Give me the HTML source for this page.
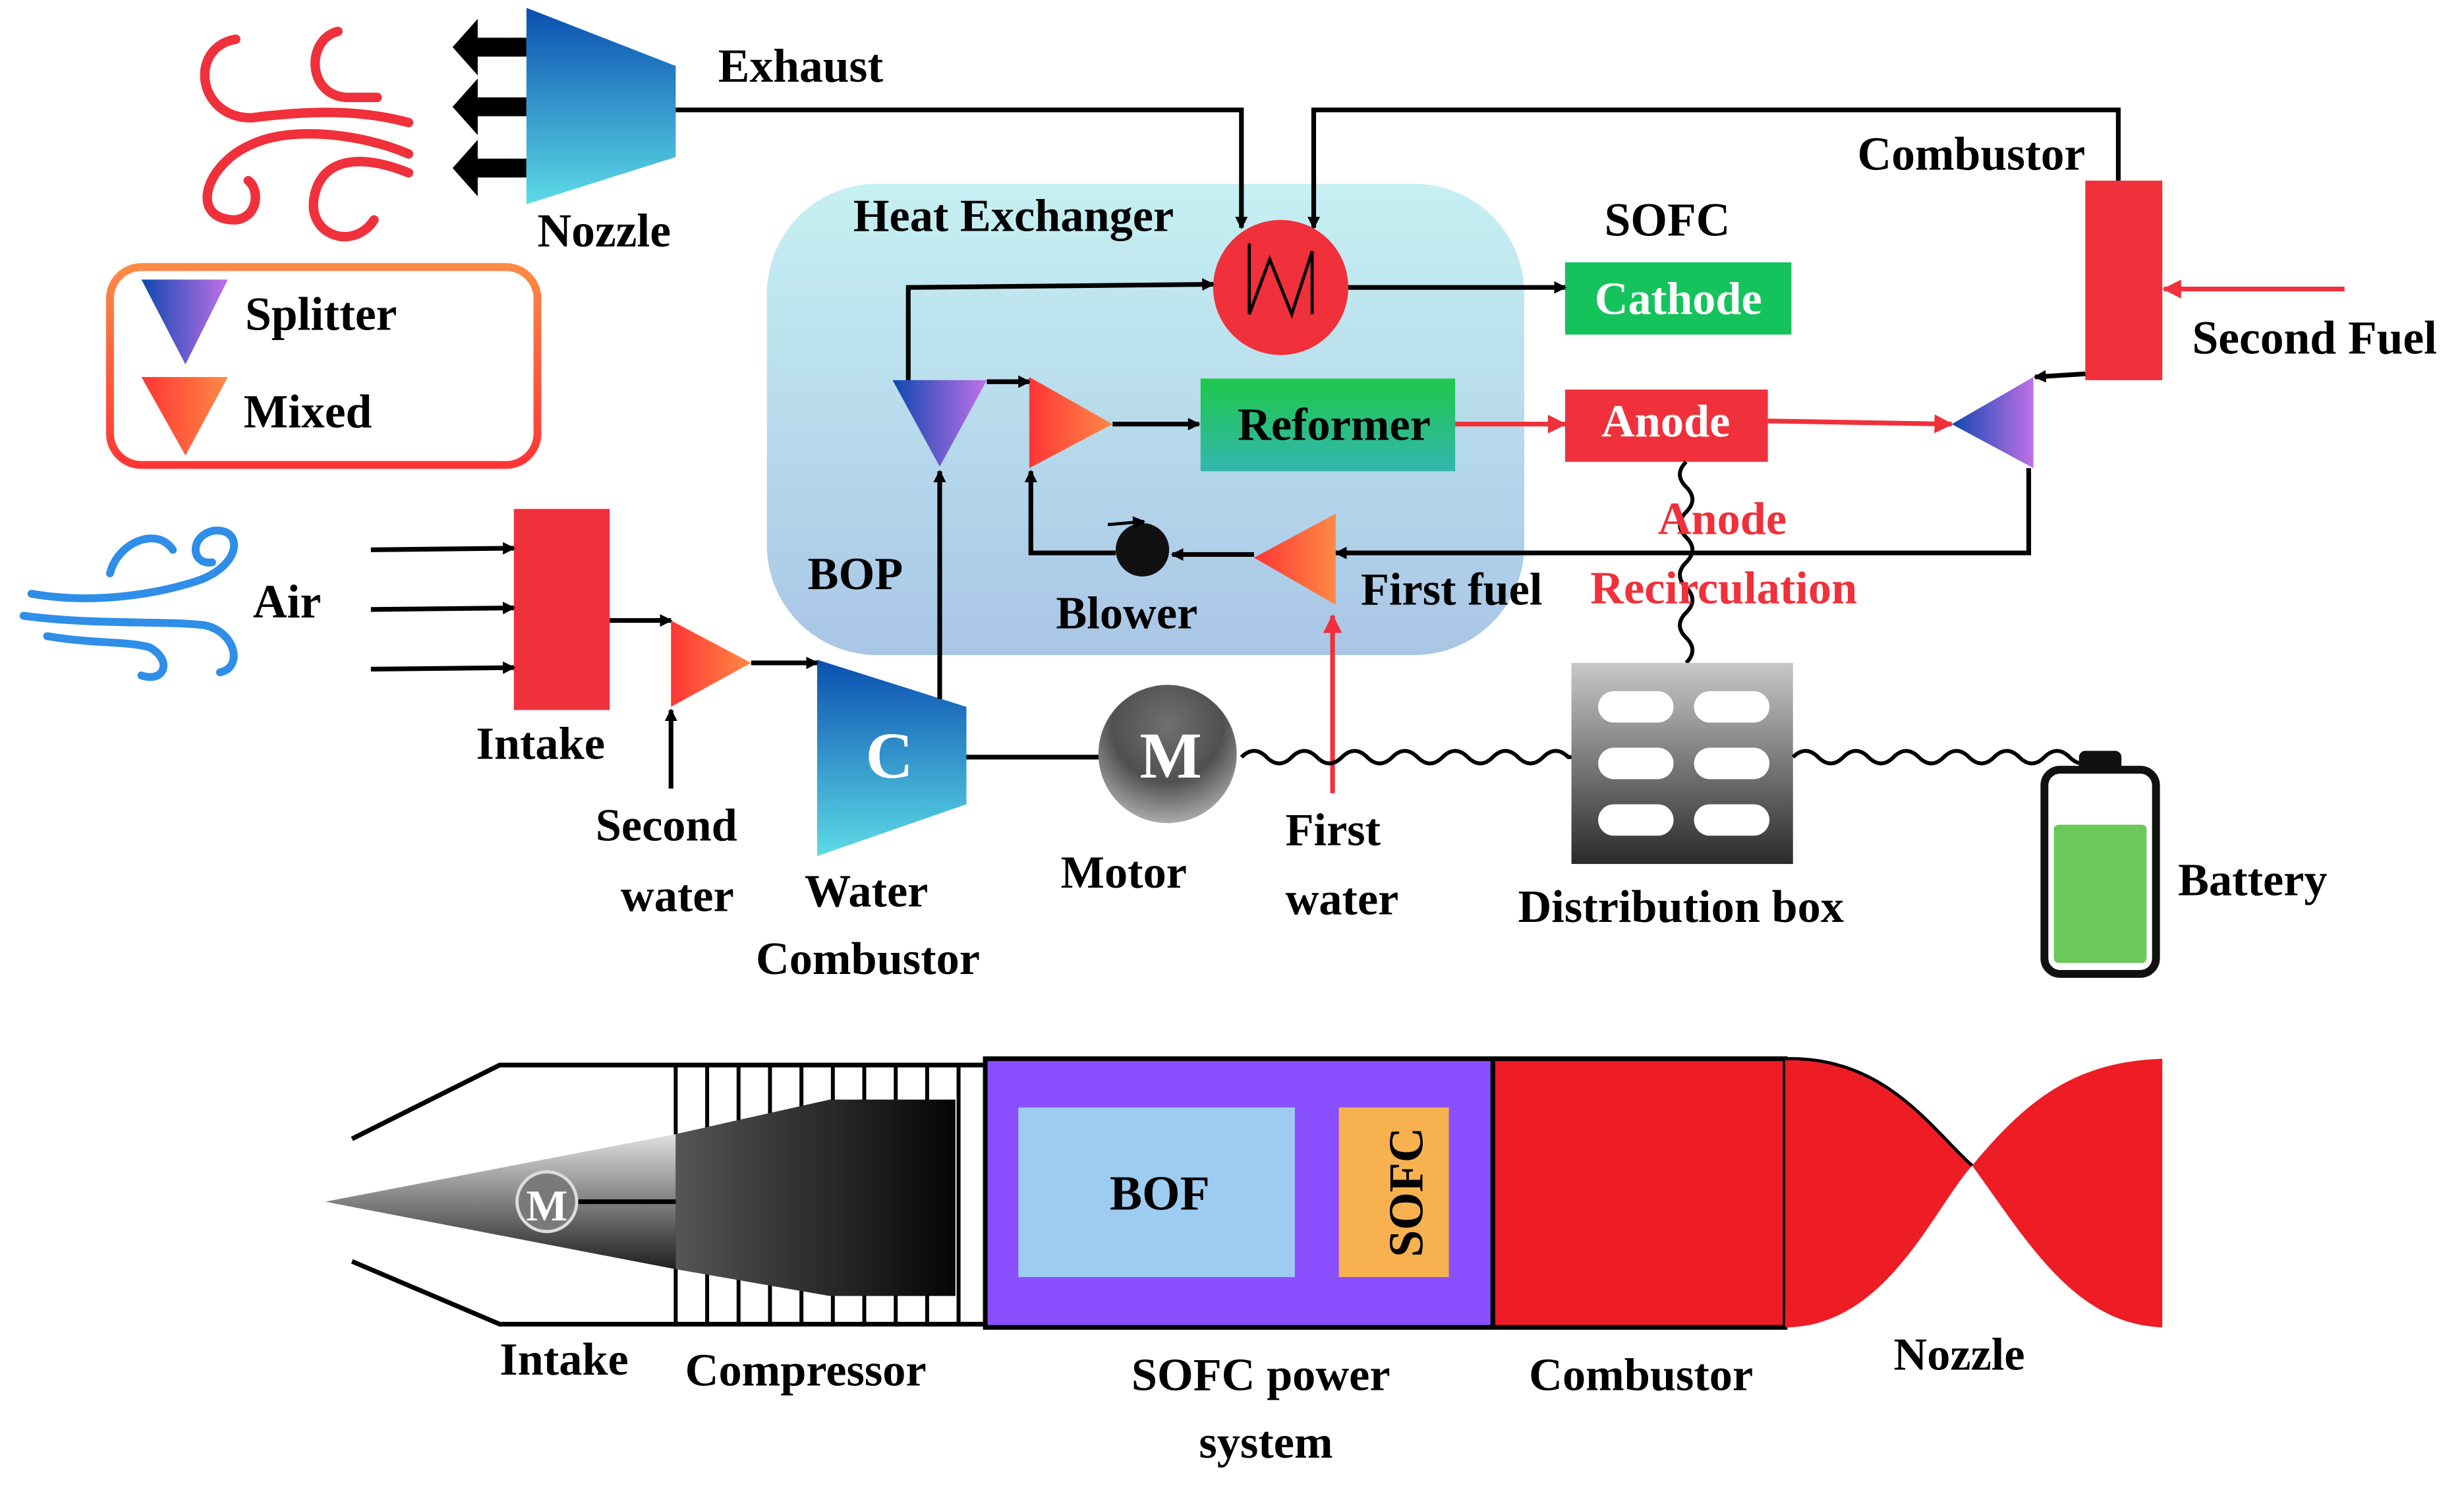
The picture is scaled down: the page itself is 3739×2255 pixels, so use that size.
<!DOCTYPE html>
<html><head><meta charset="utf-8"><style>
html,body{margin:0;padding:0;background:#fff;}
svg{display:block}
text{font-family:"Liberation Serif",serif;font-weight:bold;}
</style></head><body>
<svg width="3739" height="2255" viewBox="0 0 1568 946" preserveAspectRatio="none" xmlns="http://www.w3.org/2000/svg">
<defs>
<marker id="ab" markerWidth="8" markerHeight="8" refX="7" refY="4" orient="auto" markerUnits="userSpaceOnUse"><path d="M0,0 L8,4 L0,8 z" fill="#000"/></marker>
<marker id="ar" markerWidth="12" markerHeight="12" refX="11" refY="6" orient="auto" markerUnits="userSpaceOnUse"><path d="M0,0 L12,6 L0,12 z" fill="#f0303a"/></marker>
<linearGradient id="gBlue" x1="0" y1="0" x2="0" y2="1"><stop offset="0" stop-color="#0a4fb0"/><stop offset="1" stop-color="#5ddbe6"/></linearGradient>
<linearGradient id="gSplit" x1="0" y1="0" x2="1" y2="0"><stop offset="0" stop-color="#1048b0"/><stop offset="1" stop-color="#c070e8"/></linearGradient>
<linearGradient id="gMix" x1="0" y1="0" x2="1" y2="0"><stop offset="0" stop-color="#ff3535"/><stop offset="1" stop-color="#ff8a45"/></linearGradient>
<linearGradient id="gBop" x1="0" y1="0" x2="0" y2="1"><stop offset="0" stop-color="#c6f0f2"/><stop offset="1" stop-color="#a9c6e6"/></linearGradient>
<linearGradient id="gRef" x1="0" y1="0" x2="0" y2="1"><stop offset="0" stop-color="#1ec84a"/><stop offset="1" stop-color="#33b6b0"/></linearGradient>
<linearGradient id="gLeg" x1="0" y1="0" x2="0" y2="1"><stop offset="0" stop-color="#ff8a45"/><stop offset="1" stop-color="#ff3535"/></linearGradient>
<linearGradient id="gDist" x1="0" y1="0" x2="0" y2="1"><stop offset="0" stop-color="#c8c8c8"/><stop offset="1" stop-color="#2a2a2a"/></linearGradient>
<radialGradient id="gMot" cx="0.5" cy="0.3" r="0.8"><stop offset="0" stop-color="#707070"/><stop offset="0.5" stop-color="#505050"/><stop offset="1" stop-color="#c8c8c8"/></radialGradient>
<linearGradient id="gCone" x1="0" y1="0" x2="0" y2="1"><stop offset="0" stop-color="#e0e0e0"/><stop offset="0.5" stop-color="#808080"/><stop offset="1" stop-color="#202020"/></linearGradient>
<linearGradient id="gDark" x1="0" y1="0" x2="1" y2="0"><stop offset="0" stop-color="#555"/><stop offset="1" stop-color="#050505"/></linearGradient>
</defs>

<g fill="none" stroke="#f0303a" stroke-width="6" stroke-linecap="round">
<path d="M150,25 C120,30 125,75 160,75 C200,70 230,70 260,78"/>
<path d="M215,20 C195,25 195,60 220,62 L240,62"/>
<path d="M260,98 C230,85 185,80 160,92 C130,105 120,140 150,140 C165,138 165,120 158,115"/>
<path d="M260,110 C230,98 205,100 200,125 C195,150 225,160 238,140"/>
</g>
<g fill="#000">
<path d="M304,12 L288,30 L304,48 L304,36 L335,36 L335,24 L304,24 z"/>
<path d="M304,50 L288,68 L304,86 L304,74 L335,74 L335,62 L304,62 z"/>
<path d="M304,89 L288,107 L304,125 L304,113 L335,113 L335,101 L304,101 z"/>
</g>
<path d="M335,5 L430,42 L430,100 L335,130 z" fill="url(#gBlue)"/>
<text x="342" y="157" font-size="30">Nozzle</text>
<text x="457" y="52" font-size="30">Exhaust</text>

<rect x="488" y="117" width="482" height="300" rx="70" fill="url(#gBop)"/>
<text x="543" y="147" font-size="29.5">Heat Exchanger</text>
<text x="514" y="375" font-size="29.5">BOP</text>

<polyline points="430,70 790,70 790,145" fill="none" stroke="#000" stroke-width="3" marker-end="url(#ab)"/>
<polyline points="1348,115 1348,70 836,70 836,145" fill="none" stroke="#000" stroke-width="3" marker-end="url(#ab)"/>

<circle cx="815" cy="183" r="43" fill="#f0303a"/>
<polyline points="795,155 795,200 808,165 822,200 835,160 835,200" fill="none" stroke="#000" stroke-width="2"/>

<text x="1021" y="150" font-size="30">SOFC</text>
<rect x="996" y="167" width="144" height="46" fill="#14c35c"/>
<text x="1068" y="200" font-size="29.5" fill="#fff" text-anchor="middle">Cathode</text>
<line x1="858" y1="183" x2="996" y2="183" stroke="#000" stroke-width="3" marker-end="url(#ab)"/>
<polyline points="578,242 578,183 772,181" fill="none" stroke="#000" stroke-width="3" marker-end="url(#ab)"/>

<path d="M568,242 L628,242 L598,297 z" fill="url(#gSplit)"/>
<path d="M655,240 L708,270 L655,298 z" fill="url(#gMix)"/>
<line x1="628" y1="243" x2="655" y2="243" stroke="#000" stroke-width="3" marker-end="url(#ab)"/>
<line x1="708" y1="270" x2="763" y2="270" stroke="#000" stroke-width="3" marker-end="url(#ab)"/>
<rect x="764" y="241" width="162" height="59" fill="url(#gRef)"/>
<text x="849" y="280" font-size="29.5" text-anchor="middle">Reformer</text>
<line x1="926" y1="270" x2="996" y2="270" stroke="#f0303a" stroke-width="3" marker-end="url(#ar)"/>
<rect x="996" y="248" width="129" height="46" fill="#f0303a"/>
<text x="1060" y="278" font-size="29.5" fill="#fff" text-anchor="middle">Anode</text>
<line x1="1125" y1="268" x2="1242" y2="270" stroke="#f0303a" stroke-width="3" marker-end="url(#ar)"/>
<path d="M1242,270 L1294,240 L1294,298 z" fill="url(#gSplit)"/>

<rect x="1327" y="115" width="49" height="127" fill="#f0303a"/>
<text x="1182" y="108" font-size="30">Combustor</text>
<text x="1395" y="225" font-size="30">Second Fuel</text>
<line x1="1492" y1="184" x2="1377" y2="184" stroke="#f0303a" stroke-width="3" marker-end="url(#ar)"/>
<line x1="1327" y1="238" x2="1295" y2="240" stroke="#000" stroke-width="3" marker-end="url(#ab)"/>
<polyline points="1291,298 1291,352 850,352" fill="none" stroke="#000" stroke-width="3" marker-end="url(#ab)"/>
<path d="M798,355 L850,327 L850,385 z" fill="url(#gMix)"/>
<line x1="798" y1="353" x2="746" y2="353" stroke="#000" stroke-width="3" marker-end="url(#ab)"/>
<circle cx="727" cy="350" r="17" fill="#111"/>
<path d="M705,334 L728,332" stroke="#000" stroke-width="2" marker-end="url(#ab)" fill="none"/>
<polyline points="710,352 656,352 656,300" fill="none" stroke="#000" stroke-width="3" marker-end="url(#ab)"/>
<text x="672" y="400" font-size="29.5">Blower</text>
<text x="866" y="385" font-size="29.5">First fuel</text>
<line x1="848" y1="505" x2="848" y2="392" stroke="#f0303a" stroke-width="3" marker-end="url(#ar)"/>

<path d="M1073,294 q-8,8 0,16 q8,8 0,16 q-8,8 0,16 q8,8 0,16 q-8,8 0,16 q8,8 0,16 q-8,8 0,16 q8,8 0,16" fill="none" stroke="#000" stroke-width="2.5"/>
<text x="1055" y="340" font-size="29.5" fill="#f0303a">Anode</text>
<text x="1012" y="384" font-size="29.5" fill="#f0303a">Recirculation</text>

<rect x="1000" y="422" width="141" height="128" fill="url(#gDist)"/>
<g fill="#fff">
<rect x="1017" y="440" width="48" height="20" rx="10"/><rect x="1078" y="440" width="48" height="20" rx="10"/>
<rect x="1017" y="476" width="48" height="20" rx="10"/><rect x="1078" y="476" width="48" height="20" rx="10"/>
<rect x="1017" y="512" width="48" height="20" rx="10"/><rect x="1078" y="512" width="48" height="20" rx="10"/>
</g>
<text x="966" y="587" font-size="29.5">Distribution box</text>

<path d="M790,482 q8,-8 16,0 q8,8 16,0 q8,-8 16,0 q8,8 16,0 q8,-8 16,0 q8,8 16,0 q8,-8 16,0 q8,8 16,0 q8,-8 16,0 q8,8 16,0 q8,-8 16,0 q8,8 16,0 q8,-8 16,0 l2,0" fill="none" stroke="#000" stroke-width="2.5"/>
<path d="M1141,482 q8,-8 16,0 q8,8 16,0 q8,-8 16,0 q8,8 16,0 q8,-8 16,0 q8,8 16,0 q8,-8 16,0 q8,8 16,0 q8,-8 16,0 q8,8 16,0 q8,-8 16,0 q8,8 16,0" fill="none" stroke="#000" stroke-width="2.5"/>

<rect x="1323" y="478" width="27" height="14" rx="4" fill="#111"/>
<rect x="1301" y="490" width="71" height="130" rx="10" fill="#fff" stroke="#111" stroke-width="5"/>
<rect x="1307" y="525" width="59" height="88" rx="3" fill="#6cc85a"/>
<text x="1386" y="570" font-size="29.5">Battery</text>

<line x1="615" y1="482" x2="700" y2="482" stroke="#000" stroke-width="3"/>
<circle cx="743" cy="480" r="44" fill="url(#gMot)"/>
<text x="745" y="495" font-size="42" fill="#fff" text-anchor="middle">M</text>
<text x="675" y="565" font-size="29.5">Motor</text>
<text x="818" y="538" font-size="29.5">First</text>
<text x="818" y="582" font-size="29.5">water</text>

<path d="M520,420 L615,450 L615,512 L520,545 z" fill="url(#gBlue)"/>
<text x="566" y="495" font-size="42" fill="#fff" text-anchor="middle">C</text>
<line x1="598" y1="445" x2="598" y2="300" stroke="#000" stroke-width="3" marker-end="url(#ab)"/>
<text x="512" y="577" font-size="29.5">Water</text>
<text x="481" y="620" font-size="29.5">Combustor</text>

<path d="M427,395 L478,422 L427,450 z" fill="url(#gMix)"/>
<line x1="478" y1="422" x2="520" y2="422" stroke="#000" stroke-width="3" marker-end="url(#ab)"/>
<line x1="388" y1="395" x2="427" y2="395" stroke="#000" stroke-width="3" marker-end="url(#ab)"/>
<line x1="427" y1="502" x2="427" y2="452" stroke="#000" stroke-width="3" marker-end="url(#ab)"/>
<text x="379" y="535" font-size="29.5">Second</text>
<text x="395" y="580" font-size="29.5">water</text>

<rect x="327" y="324" width="61" height="128" fill="#f0303a"/>
<text x="303" y="483" font-size="29.5">Intake</text>
<line x1="236" y1="350" x2="327" y2="349" stroke="#000" stroke-width="3" marker-end="url(#ab)"/>
<line x1="236" y1="388" x2="327" y2="387" stroke="#000" stroke-width="3" marker-end="url(#ab)"/>
<line x1="236" y1="426" x2="327" y2="425" stroke="#000" stroke-width="3" marker-end="url(#ab)"/>

<g fill="none" stroke="#2e8ee8" stroke-width="5" stroke-linecap="round">
<path d="M20,378 C60,385 100,378 125,370 C155,360 155,335 135,338 C120,342 122,360 135,358"/>
<path d="M15,392 C60,398 105,395 130,398 C150,402 155,425 140,428"/>
<path d="M30,405 C60,410 80,408 95,412 C110,420 105,435 90,430"/>
<path d="M70,365 C75,345 100,335 110,350"/>
</g>
<text x="161" y="393" font-size="30">Air</text>

<rect x="70" y="170" width="272" height="126" rx="20" fill="#fff" stroke="url(#gLeg)" stroke-width="5"/>
<path d="M90,178 L145,178 L118,232 z" fill="url(#gSplit)"/>
<text x="156" y="210" font-size="30">Splitter</text>
<path d="M90,240 L145,240 L118,290 z" fill="url(#gMix)"/>
<text x="155" y="272" font-size="30">Mixed</text>

<g stroke="#000" stroke-width="3" fill="none">
<polyline points="224,725 318,678 627,678"/>
<polyline points="224,803 318,843 627,843"/>
</g>
<g stroke="#000" stroke-width="2.5">
<line x1="430" y1="678" x2="430" y2="843"/><line x1="450" y1="678" x2="450" y2="843"/><line x1="470" y1="678" x2="470" y2="843"/>
<line x1="490" y1="678" x2="490" y2="843"/><line x1="510" y1="678" x2="510" y2="843"/><line x1="530" y1="678" x2="530" y2="843"/>
<line x1="550" y1="678" x2="550" y2="843"/><line x1="570" y1="678" x2="570" y2="843"/><line x1="590" y1="678" x2="590" y2="843"/>
<line x1="610" y1="678" x2="610" y2="843"/>
</g>
<path d="M207,765 L430,722 L430,808 z" fill="url(#gCone)"/>
<path d="M430,722 L528,700 L608,700 L608,825 L528,825 L430,808 z" fill="url(#gDark)"/>
<line x1="348" y1="765" x2="430" y2="765" stroke="#000" stroke-width="3"/>
<circle cx="348" cy="765" r="19" fill="#7a7a7a" stroke="#ddd" stroke-width="2"/>
<text x="348" y="777" font-size="28" fill="#fff" text-anchor="middle">M</text>

<rect x="627" y="674" width="323" height="171" fill="#8a4fff" stroke="#000" stroke-width="3"/>
<rect x="648" y="705" width="176" height="108" fill="#9ecbf0"/>
<text x="738" y="770" font-size="31" text-anchor="middle">BOF</text>
<rect x="852" y="705" width="70" height="108" fill="#f7b24f"/>
<text x="898" y="759" font-size="31" text-anchor="middle" transform="rotate(-90 898 759)" dominant-baseline="middle">SOFC</text>
<rect x="950" y="674" width="186" height="171" fill="#ee1c25" stroke="#000" stroke-width="3"/>
<path d="M1136,674 C1200,672 1230,720 1255,742 C1290,700 1320,676 1376,674 L1376,845 C1320,843 1290,790 1255,742 C1230,770 1200,845 1136,845 Z" fill="#ee1c25"/>
<path d="M1136,674 C1200,672 1230,720 1255,742" fill="none" stroke="#000" stroke-width="2"/>

<text x="318" y="875" font-size="29.5">Intake</text>
<text x="436" y="882" font-size="29.5">Compressor</text>
<text x="720" y="885" font-size="29.5">SOFC power</text>
<text x="763" y="928" font-size="29.5">system</text>
<text x="973" y="885" font-size="29.5">Combustor</text>
<text x="1205" y="872" font-size="29.5">Nozzle</text>
</svg>
</body></html>
